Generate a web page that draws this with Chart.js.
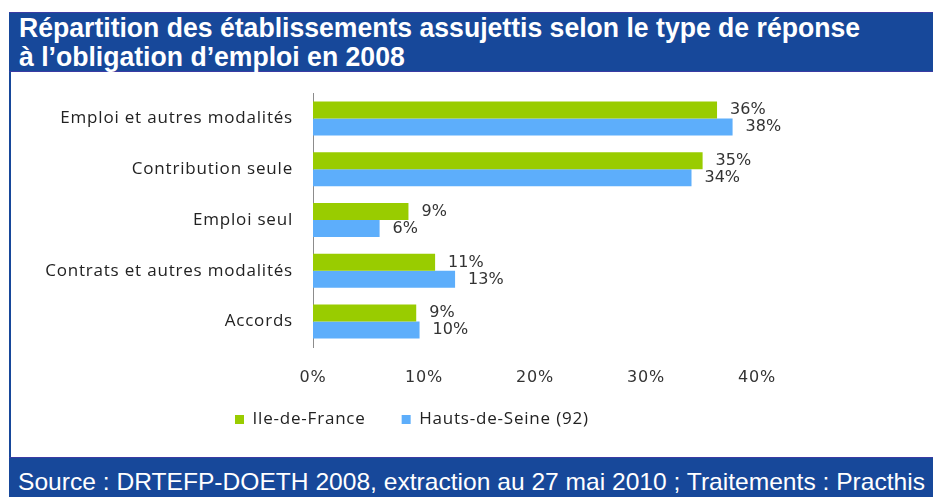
<!DOCTYPE html>
<html lang="fr">
<head>
<meta charset="utf-8">
<script src="https://cdn.jsdelivr.net/npm/chart.js@4.4.1/dist/chart.umd.min.js"></script>
<style>
  html, body { margin: 0; padding: 0; background: #fff; }
  body { width: 933px; height: 497px; position: relative; overflow: hidden; }
  .band { position: absolute; left: 9px; width: 924px; background: #17489a; color: #fff;
          font-family: "Liberation Sans", Arial, sans-serif; white-space: nowrap; }
  #title { top: 12px; height: 60px; border-top: 1px solid #3b3ba3; border-bottom: 1px solid #3b3ba3;
           box-sizing: border-box; font-weight: bold; font-size: 27px; line-height: 29px; padding: 1px 0 0 10px; }
  #source { top: 457px; height: 40px; border-top: 1px solid #3b3ba3; box-sizing: border-box;
            font-size: 24px; line-height: 38px; padding: 5px 0 0 9px; }
  .fit { display: inline-block; transform-origin: 0 50%; }
  #edge { position: absolute; left: 9px; top: 72px; width: 2px; height: 385px; background: #17489a; }
  #wrap { position: absolute; left: 12px; top: 63px; width: 802px; height: 394px; }
</style>
</head>
<body>
<div id="title" class="band"><span class="fit" id="t1">Répartition des établissements assujettis selon le type de réponse</span><br><span class="fit" id="t2">à l’obligation d’emploi en 2008</span></div>
<div id="edge"></div>
<div id="wrap"><canvas id="chart"></canvas></div>
<div id="source" class="band"><span class="fit" id="s1">Source : DRTEFP-DOETH 2008, extraction au 27 mai 2010 ; Traitements : Practhis</span></div>
<script>
const categories = ['Emploi et autres modalités', 'Contribution seule', 'Emploi seul', 'Contrats et autres modalités', 'Accords'];
const ileDeFrance = [36.4, 35.1, 8.6, 11.0, 9.3];
const hautsDeSeine = [37.8, 34.1, 6.0, 12.8, 9.6];
const seriesNames = ['Ile-de-France', 'Hauts-de-Seine (92)'];
const xTicks = [0, 10, 20, 30, 40];

// squeeze the banner texts to the width they have in the original
function fitText(id, target, ref) {
  const el = document.getElementById(id);
  const w = document.getElementById(ref || id).getBoundingClientRect().width;
  el.style.transform = 'scaleX(' + (target / w) + ')';
}
fitText('t2', 841, 't1');
fitText('t1', 841);
fitText('s1', 907);

// the original labels are drawn wide: space the sans labels out a bit,
// the x axis (z: 1) is drawn after the datasets with normal spacing
const textSpacing = {
  id: 'textSpacing',
  beforeLayout(chart) { chart.ctx.letterSpacing = '0.8px'; },
  beforeDraw(chart) { chart.ctx.letterSpacing = '0.8px'; },
  afterDatasetsDraw(chart) { chart.ctx.letterSpacing = '0px'; }
};

// legend sits under the plot, a bit left of centre
const legendSpot = {
  id: 'legendSpot',
  afterLayout(chart) {
    const lg = chart.legend;
    const w = lg.right - lg.left, h = lg.bottom - lg.top;
    lg.left = 187; lg.right = lg.left + w;
    lg.top = 312; lg.bottom = lg.top + h;
  }
};

// value labels next to each bar
const barLabels = {
  id: 'barLabels',
  afterDatasetsDraw(chart) {
    const ctx = chart.ctx;
    ctx.save();
    ctx.font = '16px "DejaVu Sans", Verdana, sans-serif';
    ctx.fillStyle = '#333333';
    ctx.textAlign = 'left';
    ctx.textBaseline = 'middle';
    chart.data.datasets.forEach((ds, i) => {
      chart.getDatasetMeta(i).data.forEach((bar, j) => {
        ctx.fillText(Math.round(ds.data[j]) + '%', bar.x + 13, bar.y);
      });
    });
    ctx.restore();
  }
};

new Chart(document.getElementById('chart'), {
  type: 'bar',
  data: {
    labels: categories,
    datasets: [
      { label: seriesNames[0], data: ileDeFrance, backgroundColor: '#99cc00' },
      { label: seriesNames[1], data: hautsDeSeine, backgroundColor: '#5daefb' }
    ]
  },
  options: {
    indexAxis: 'y',
    responsive: true,
    maintainAspectRatio: false,
    animation: false,
    datasets: { bar: { barPercentage: 1, categoryPercentage: 0.67 } },
    layout: { padding: { top: 0, right: 57, bottom: 7, left: 0 } },
    scales: {
      x: {
        z: 1,
        min: xTicks[0],
        max: xTicks[xTicks.length - 1],
        afterBuildTicks: s => { s.ticks = xTicks.map(v => ({ value: v })); },
        afterFit: s => { s.height = 40; },
        grid: { display: false, drawTicks: false },
        border: { display: false },
        ticks: {
          padding: 21,
          color: '#333333',
          font: { family: '"DejaVu Sans", Verdana, sans-serif', size: 16 },
          callback: v => v + '%'
        }
      },
      y: {
        afterFit: s => { s.width = 301; },
        grid: { display: false, drawTicks: false },
        border: { color: '#8c8c8c', width: 1 },
        ticks: {
          padding: 20,
          color: '#222222',
          font: { family: '"Open Sans", sans-serif', size: 17 }
        }
      }
    },
    plugins: {
      legend: {
        position: 'bottom',
        align: 'start',
        labels: {
          boxWidth: 9,
          boxHeight: 9,
          padding: 36,
          color: '#222222',
          font: { family: '"Open Sans", sans-serif', size: 17 }
        }
      },
      tooltip: { enabled: false }
    }
  },
  plugins: [textSpacing, legendSpot, barLabels]
});
</script>
</body>
</html>
